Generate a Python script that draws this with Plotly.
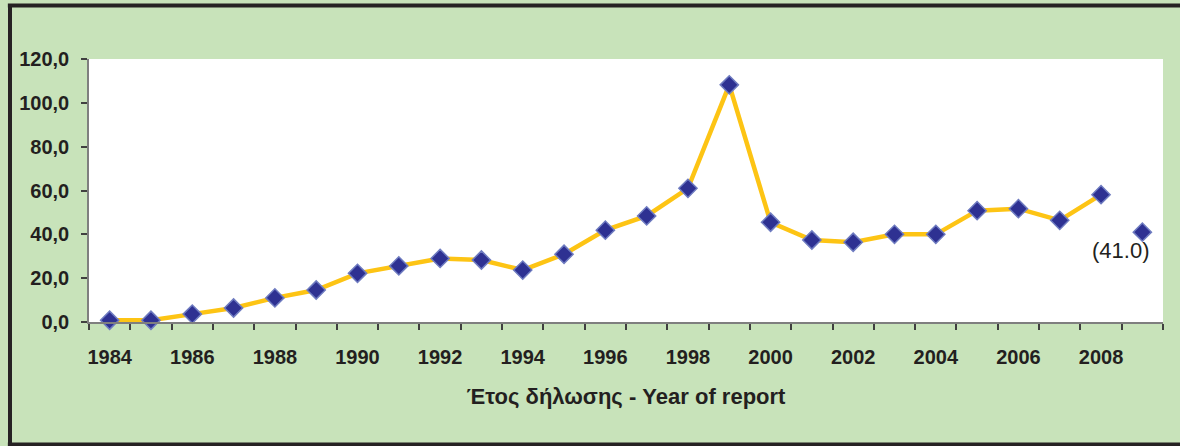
import plotly.graph_objects as go

years = list(range(1984, 2009))
values = [0.8, 0.8, 3.6, 6.4, 11.0, 14.6, 22.2, 25.6, 29.0, 28.3, 23.7, 30.9,
          41.9, 48.4, 61.0, 108.2, 45.5, 37.4, 36.4, 40.0, 40.0, 50.8, 51.7, 46.4, 58.1]
prov_year = [2009]
prov_value = [41.0]
prov_label = "(41.0)"
x_tick_years = list(range(1984, 2010, 2))
y_ticks = [0, 20, 40, 60, 80, 100, 120]

W, H = 1180, 446
L, R, T, B = 89, 1180 - 1163, 59, 446 - 322
pw, ph = W - L - R, H - T - B

line_col = "#FDC414"
mk = dict(symbol="diamond", size=14, color="#2E3192",
          line=dict(color="#6E7BC0", width=1.5))
FONT = "Liberation Sans, Arial"

fig = go.Figure()
fig.add_trace(go.Scatter(x=years, y=values, mode="lines+markers",
                         line=dict(color=line_col, width=4.5), marker=mk,
                         showlegend=False, cliponaxis=False))
fig.add_trace(go.Scatter(x=prov_year, y=prov_value, mode="markers",
                         marker=mk, showlegend=False, cliponaxis=False))
fig.add_annotation(x=prov_year[0], y=prov_value[0], text=prov_label, showarrow=False,
                   xanchor="center", yanchor="top", xshift=-22, yshift=-4,
                   font=dict(family=FONT, size=22, color="#231F20"))

fig.update_layout(
    width=W, height=H,
    margin=dict(l=L, r=R, t=T, b=B),
    paper_bgcolor="#C8E3BA", plot_bgcolor="#FFFFFF",
    font=dict(family=FONT, color="#231F20"),
    xaxis=dict(
        range=[1983.5, 2009.5], tickvals=x_tick_years,
        ticktext=[f"<b>{y}</b>" for y in x_tick_years],
        ticks="", showgrid=False,
        zeroline=False, showline=True, linecolor="#7F7F7F", linewidth=1.5,
        tickfont=dict(size=20),
        ticklabelstandoff=16,
        minor=dict(tick0=1983.5, dtick=1, ticks="outside", ticklen=6,
                   tickcolor="#404040", tickwidth=1.5, showgrid=False),
        title=dict(text="<b>Έτος δήλωσης - Year of report</b>", standoff=22,
                   font=dict(size=22)),
    ),
    yaxis=dict(
        range=[0, 120], tickvals=y_ticks,
        ticktext=[f"<b>{v:.1f}</b>".replace(".", ",") for v in y_ticks],
        ticks="outside",
        ticklen=6, tickcolor="#404040", tickwidth=1.5, showgrid=False,
        zeroline=False, showline=True, linecolor="#7F7F7F", linewidth=1.5,
        tickfont=dict(size=20), ticklabelstandoff=8,
    ),
)

# outer dark frame (left, top, bottom edges)
fx0, fx1 = (10 - L) / pw, (W - L) / pw
fy0, fy1 = (H - 444.5 - B) / ph, (H - 5.5 - B) / ph
frame = dict(color="#262223", width=4)
for (a, b, c, d) in [(fx0, fy0, fx0, fy1), (fx0 - 0.002, fy1, fx1, fy1), (fx0 - 0.002, fy0, fx1, fy0)]:
    fig.add_shape(type="line", xref="paper", yref="paper", x0=a, y0=b, x1=c, y1=d,
                  line=frame, layer="below")

fig.write_html("out.html", config={"displayModeBar": False},
               post_script="document.body.style.margin='0';document.body.style.overflow='hidden';")
